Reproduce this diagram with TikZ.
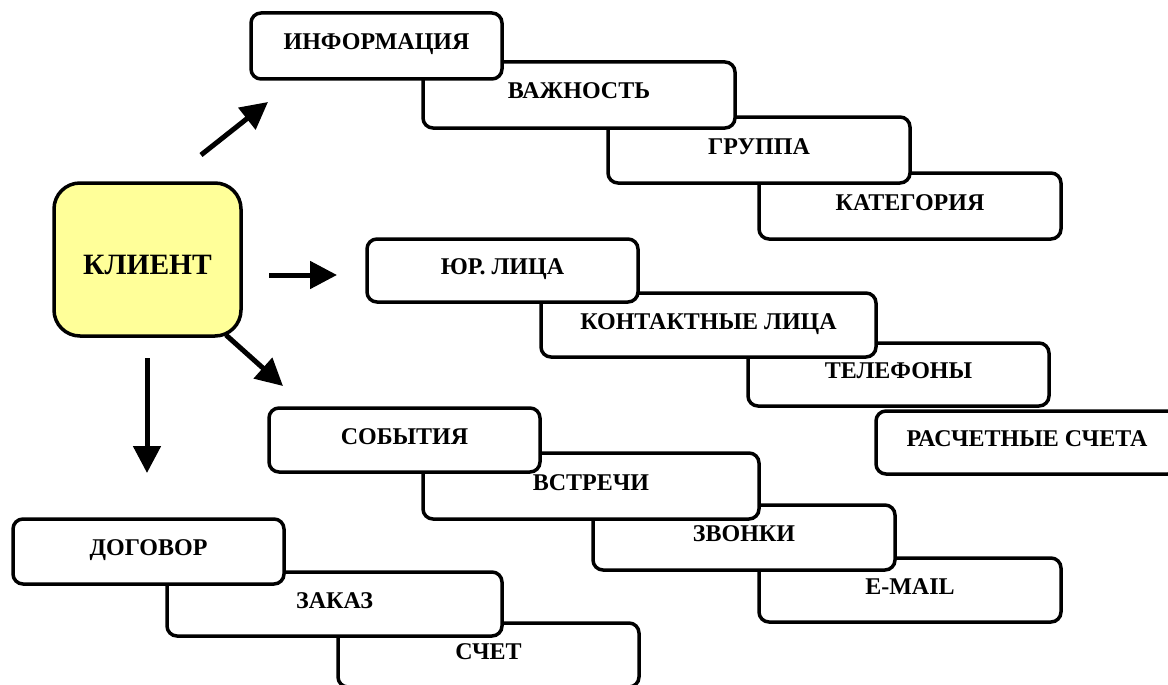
\documentclass[tikz,border=0pt]{standalone}
\usepackage{fontspec}
\setmainfont{Liberation Serif}
\usetikzlibrary{arrows.meta}
\definecolor{klyellow}{RGB}{255,255,153}
\begin{document}
\begin{tikzpicture}[x=1pt,y=-1pt,
  box/.style={draw, line width=3.5pt, rounded corners=10pt, fill=white,
    font=\fontsize{24}{28}\selectfont\bfseries, inner sep=0pt,
    text height=17pt, text depth=9pt},
  mainbox/.style={box, fill=klyellow, rounded corners=26pt,
    font=\fontsize{29.5}{33}\selectfont\bfseries, text height=29pt, text depth=0pt},
  arr/.style={line width=5pt, -{Triangle[length=27pt,width=27pt]}}]
\useasboundingbox (0,0) rectangle (1168,685);
\clip (0,0) rectangle (1168,685);
% group 1
\node[box, minimum width=302pt, minimum height=66pt] (kat) at (910,206) {КАТЕГОРИЯ};
\node[box, minimum width=302pt, minimum height=66pt] (grup) at (759,150) {ГРУППА};
\node[box, minimum width=312pt, minimum height=66pt] (vazh) at (579,95) {ВАЖНОСТЬ};
\node[box, minimum width=251pt, minimum height=66pt] (info) at (376.5,46) {ИНФОРМАЦИЯ};
% group 2
\node[box, minimum width=302pt, minimum height=63pt] (rasch) at (1027,442.5) {РАСЧЕТНЫЕ СЧЕТА};
\node[box, minimum width=301pt, minimum height=63pt] (tel) at (898.5,374.5) {ТЕЛЕФОНЫ};
\node[box, minimum width=335pt, minimum height=64pt] (kont) at (708.5,325) {КОНТАКТНЫЕ ЛИЦА};
\node[box, minimum width=271pt, minimum height=63pt] (yur) at (502.5,270.5) {ЮР. ЛИЦА};
% group 3
\node[box, minimum width=302pt, minimum height=64pt] (email) at (910,590) {E-MAIL};
\node[box, minimum width=302pt, minimum height=65pt] (zvon) at (744,537.5) {ЗВОНКИ};
\node[box, minimum width=336pt, minimum height=66pt] (vstr) at (591,486) {ВСТРЕЧИ};
\node[box, minimum width=271pt, minimum height=64pt] (sob) at (404.5,440) {СОБЫТИЯ};
% group 4
\node[box, minimum width=301pt, minimum height=64pt] (schet) at (488.5,655) {СЧЕТ};
\node[box, minimum width=335pt, minimum height=64pt] (zak) at (334.5,604) {ЗАКАЗ};
\node[box, minimum width=271pt, minimum height=65pt] (dog) at (148.5,551.5) {ДОГОВОР};
% main
\node[mainbox, minimum width=187pt, minimum height=153pt] (klient) at (147.5,259.5) {КЛИЕНТ};
% arrows
\coordinate (a1s) at (201,155); \coordinate (a1e) at (268,102);
\coordinate (a2s) at (269,275); \coordinate (a2e) at (337,275);
\coordinate (a3s) at (226,335); \coordinate (a3e) at (283,386);
\coordinate (a4s) at (147,358); \coordinate (a4e) at (147,473);
\draw[arr] (a1s) -- (a1e);
\draw[arr] (a2s) -- (a2e);
\draw[arr] (a3s) -- (a3e);
\draw[arr] (a4s) -- (a4e);
\end{tikzpicture}
\end{document}
